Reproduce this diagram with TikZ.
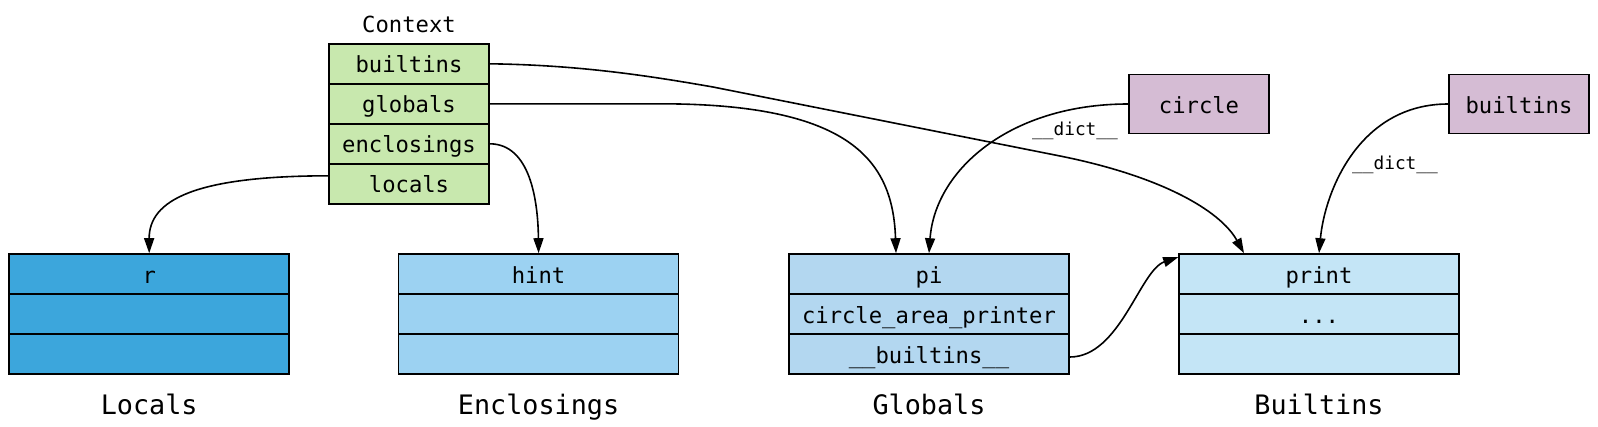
\documentclass[tikz,border=0pt]{standalone}
\usepackage{fontspec}
\setmonofont{DejaVu Sans Mono}
\usetikzlibrary{arrows.meta,calc}
\definecolor{ctxgreen}{HTML}{C8E8AE}
\definecolor{locblue}{HTML}{3CA6DC}
\definecolor{encblue}{HTML}{9CD2F2}
\definecolor{globblue}{HTML}{B3D7F0}
\definecolor{bltblue}{HTML}{C4E5F6}
\definecolor{objpurple}{HTML}{D5BCD4}
\tikzset{
  cell/.style={draw=black, line width=1.6pt, rectangle, inner sep=0pt, text height=18pt, text depth=0pt, font=\ttfamily\fontsize{22.2}{26}\selectfont},
  ctxcell/.style={cell, fill=ctxgreen, minimum width=160pt, minimum height=40pt},
  bigcell/.style={cell, minimum width=280pt, minimum height=40pt},
  objbox/.style={cell, fill=objpurple, minimum width=140pt, minimum height=59pt},
  title/.style={font=\ttfamily\fontsize{22.2}{26}\selectfont, inner sep=0pt, text height=18pt, text depth=0pt},
  caption/.style={font=\ttfamily\fontsize{26.8}{31}\selectfont, inner sep=0pt, text height=21.2pt, text depth=0pt},
  elabel/.style={font=\ttfamily\fontsize{17.8}{21}\selectfont, inner sep=0pt, text height=12.8pt, text depth=0pt},
  conn/.style={line width=1.6pt, -{Triangle[length=15pt,width=10pt]}},
}
\begin{document}
\begin{tikzpicture}[x=1pt,y=-1pt]
\useasboundingbox (0,0) rectangle (1598,426);
% Context
\node[title] (ctxtitle) at (409,23) {Context};
\node[ctxcell] (ctxb) at (409,63.8) {builtins};
\node[ctxcell] (ctxg) at (409,103.8) {globals};
\node[ctxcell] (ctxe) at (409,143.8) {enclosings};
\node[ctxcell] (ctxl) at (409,183.8) {locals};
% Locals
\node[bigcell, fill=locblue] (loc1) at (149.2,274) {r};
\node[bigcell, fill=locblue] (loc2) at (149.2,314) {};
\node[bigcell, fill=locblue] (loc3) at (149.2,354) {};
\node[caption] (loccap) at (149.2,404) {Locals};
% Enclosings
\node[bigcell, fill=encblue] (enc1) at (538.6,274) {hint};
\node[bigcell, fill=encblue] (enc2) at (538.6,314) {};
\node[bigcell, fill=encblue] (enc3) at (538.6,354) {};
\node[caption] (enccap) at (538.6,404) {Enclosings};
% Globals
\node[bigcell, fill=globblue] (glob1) at (929,274) {pi};
\node[bigcell, fill=globblue] (glob2) at (929,314) {circle\_area\_printer};
\node[bigcell, fill=globblue] (glob3) at (929,354) {\_\_builtins\_\_};
\node[caption] (globcap) at (929,404) {Globals};
% Builtins
\node[bigcell, fill=bltblue] (bi1) at (1319,274) {print};
\node[bigcell, fill=bltblue] (bi2) at (1319,314) {...};
\node[bigcell, fill=bltblue] (bi3) at (1319,354) {};
\node[caption] (bicap) at (1319,404) {Builtins};
% objects
\node[objbox] (circ) at (1199,104) {circle};
\node[objbox] (pb) at (1519,104) {builtins};
% connectors
\draw[conn] ([yshift=8pt]ctxl.west) .. controls (195,176) and (149,200) .. (loc1.north);
\draw[conn] (ctxe.east) .. controls (530,144) and (538,200) .. (enc1.north);
\draw[conn] (ctxg.east) -- (660,103.8) .. controls (850,103.8) and (893,160) .. ([xshift=-33pt]glob1.north);
\draw[conn] (ctxb.east) .. controls (580,65) and (650,76) .. (713,87) -- (1060,156) .. controls (1160,176) and (1220,210) .. ([xshift=-75pt]bi1.north);
\draw[conn] (circ.west) .. controls (1010,104) and (935,170) .. (glob1.north);
\draw[conn] (pb.west) .. controls (1360,104) and (1325,190) .. (bi1.north);
\draw[conn] ([yshift=-3pt]glob3.east) .. controls (1120,357) and (1140,270) .. ([yshift=-4pt]bi1.north west);
% edge labels
\node[elabel] (dl1) at (1075,129) {\_\_dict\_\_};
\node[elabel] (dl2) at (1395,163) {\_\_dict\_\_};
\end{tikzpicture}
\end{document}
